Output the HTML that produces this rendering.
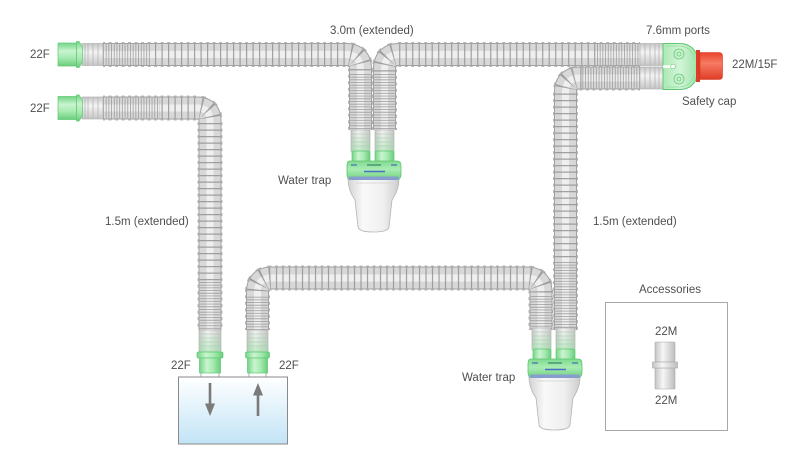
<!DOCTYPE html>
<html><head><meta charset="utf-8"><style>
html,body{margin:0;padding:0;background:#fff;}
svg{display:block}
text{font-family:"Liberation Sans",Arial,sans-serif;font-size:11.5px;fill:#4f4f4f}
.tb path{fill:none}
.e{stroke:#b8b8b8;stroke-width:25;stroke-dasharray:3 3.5;stroke-dashoffset:.9}
.o{stroke:#a2a2a2;stroke-width:23}
.b{stroke:#d8d8d8;stroke-width:21}
.h{stroke:#efefef;stroke-width:7}
.r{stroke:#939393;stroke-width:21;stroke-dasharray:1.2 5.3;opacity:.85}
.d{stroke:#959595;stroke-width:21;stroke-dasharray:.9 1.8;opacity:.8}
</style></head><body>
<svg width="800" height="462" viewBox="0 0 800 462">
<defs>
<linearGradient id="grnH" x1="0" y1="0" x2="0" y2="1"><stop offset="0" stop-color="#74d586"/><stop offset=".35" stop-color="#c9f4d0"/><stop offset=".65" stop-color="#a6eab1"/><stop offset="1" stop-color="#6acd7c"/></linearGradient>
<linearGradient id="grnV" x1="0" y1="0" x2="1" y2="0"><stop offset="0" stop-color="#74d586"/><stop offset=".35" stop-color="#c9f4d0"/><stop offset=".65" stop-color="#a6eab1"/><stop offset="1" stop-color="#6acd7c"/></linearGradient>
<linearGradient id="grnBody" x1="0" y1="0" x2="0" y2="1"><stop offset="0" stop-color="#7edb8e"/><stop offset=".45" stop-color="#a9ecb3"/><stop offset="1" stop-color="#6fd17f"/></linearGradient>
<linearGradient id="grnY" x1="0" y1="0" x2="1" y2="0"><stop offset="0" stop-color="#a9e9b3"/><stop offset=".5" stop-color="#d3f5d8"/><stop offset="1" stop-color="#9fe3aa"/></linearGradient>
<linearGradient id="cuffH" x1="0" y1="0" x2="0" y2="1"><stop offset="0" stop-color="#c8c8c8"/><stop offset=".4" stop-color="#f4f4f4"/><stop offset="1" stop-color="#c6c6c6"/></linearGradient>
<linearGradient id="cuffV" x1="0" y1="0" x2="1" y2="0"><stop offset="0" stop-color="#c8c8c8"/><stop offset=".4" stop-color="#f4f4f4"/><stop offset="1" stop-color="#c6c6c6"/></linearGradient>
<linearGradient id="tint" x1="0" y1="0" x2="0" y2="1"><stop offset="0" stop-color="#8fe09c" stop-opacity="0"/><stop offset="1" stop-color="#8fe09c" stop-opacity=".5"/></linearGradient>
<linearGradient id="cupG" x1="0" y1="0" x2="1" y2="0"><stop offset="0" stop-color="#d3d3d3"/><stop offset=".3" stop-color="#f9f9f9"/><stop offset=".7" stop-color="#efefef"/><stop offset="1" stop-color="#cdcdcd"/></linearGradient>
<linearGradient id="boxG" x1="0" y1="0" x2="0" y2="1"><stop offset="0" stop-color="#ffffff"/><stop offset="1" stop-color="#c2e4f6"/></linearGradient>
<linearGradient id="redG" x1="0" y1="0" x2="0" y2="1"><stop offset="0" stop-color="#e8432b"/><stop offset=".4" stop-color="#f77a63"/><stop offset="1" stop-color="#e03d26"/></linearGradient>
<linearGradient id="accG" x1="0" y1="0" x2="1" y2="0"><stop offset="0" stop-color="#c4c4c4"/><stop offset=".4" stop-color="#f6f6f6"/><stop offset="1" stop-color="#bdbdbd"/></linearGradient>
</defs>

<!-- Tubes -->
<g class="tb">
  <path class="e" d="M103,54.5 H346 Q360.5,54.5 360.5,69 V130"/>
  <path class="o" d="M103,54.5 H346 Q360.5,54.5 360.5,69 V130"/>
  <path class="b" d="M103,54.5 H346 Q360.5,54.5 360.5,69 V130"/>
  <path class="h" d="M103,54.5 H346 Q360.5,54.5 360.5,69 V130"/>
  <path class="r" d="M103,54.5 H346 Q360.5,54.5 360.5,69 V130"/>

  <path class="e" d="M384.5,130 V69 Q384.5,54.5 399,54.5 H640"/>
  <path class="o" d="M384.5,130 V69 Q384.5,54.5 399,54.5 H640"/>
  <path class="b" d="M384.5,130 V69 Q384.5,54.5 399,54.5 H640"/>
  <path class="h" d="M384.5,130 V69 Q384.5,54.5 399,54.5 H640"/>
  <path class="r" d="M384.5,130 V69 Q384.5,54.5 399,54.5 H640"/>

  <path class="e" d="M103,108 H197 Q210,108 210,121 V330"/>
  <path class="o" d="M103,108 H197 Q210,108 210,121 V330"/>
  <path class="b" d="M103,108 H197 Q210,108 210,121 V330"/>
  <path class="h" d="M103,108 H197 Q210,108 210,121 V330"/>
  <path class="r" d="M103,108 H197 Q210,108 210,121 V330"/>

  <path class="e" d="M257.5,330 V292 Q257.5,278 271.5,278 H527 Q541,278 541,292 V330"/>
  <path class="o" d="M257.5,330 V292 Q257.5,278 271.5,278 H527 Q541,278 541,292 V330"/>
  <path class="b" d="M257.5,330 V292 Q257.5,278 271.5,278 H527 Q541,278 541,292 V330"/>
  <path class="h" d="M257.5,330 V292 Q257.5,278 271.5,278 H527 Q541,278 541,292 V330"/>
  <path class="r" d="M257.5,330 V292 Q257.5,278 271.5,278 H527 Q541,278 541,292 V330"/>

  <path class="e" d="M640,78 H580 Q565.5,78 565.5,92 V330"/>
  <path class="o" d="M640,78 H580 Q565.5,78 565.5,92 V330"/>
  <path class="b" d="M640,78 H580 Q565.5,78 565.5,92 V330"/>
  <path class="h" d="M640,78 H580 Q565.5,78 565.5,92 V330"/>
  <path class="r" d="M640,78 H580 Q565.5,78 565.5,92 V330"/>

  <g>
    <path class="b" d="M103,54.5 H150 M360.5,74 V130 M384.5,74 V130 M597,54.5 H640 M103,108 H160 M210,282 V330 M257.5,330 V296 M541,296 V330 M640,78 H582 M565.5,262 V330"/>
    <path class="h" d="M103,54.5 H150 M360.5,74 V130 M384.5,74 V130 M597,54.5 H640 M103,108 H160 M210,282 V330 M257.5,330 V296 M541,296 V330 M640,78 H582 M565.5,262 V330"/>
    <path class="d" d="M103,54.5 H150 M360.5,74 V130 M384.5,74 V130 M597,54.5 H640 M103,108 H160 M210,282 V330 M257.5,330 V296 M541,296 V330 M640,78 H582 M565.5,262 V330"/>
  </g>
</g>

<!-- Horizontal cuffs -->
<g stroke="#aaa" stroke-width=".6">
  <rect x="82" y="43.5" width="21" height="22" fill="url(#cuffH)"/>
  <rect x="82" y="97" width="21" height="22" fill="url(#cuffH)"/>
  <rect x="640" y="43.5" width="23" height="22" fill="url(#cuffH)"/>
  <rect x="640" y="67" width="23" height="22" fill="url(#cuffH)"/>
</g>
<g stroke="#b0b0b0" stroke-width=".7">
  <path d="M85,44 V65 M88,44 V65 M93,44 V65 M98,44 V65 M85,97.5 V118.5 M88,97.5 V118.5 M93,97.5 V118.5 M98,97.5 V118.5"/>
  <path d="M645,44 V65 M650,44 V65 M655,44 V65 M659,44 V65 M645,67.5 V88.5 M650,67.5 V88.5 M655,67.5 V88.5 M659,67.5 V88.5"/>
</g>

<!-- 22F connectors left -->
<g stroke="#5fc872" stroke-width=".7">
  <rect x="58" y="43" width="18.5" height="23" fill="url(#grnH)"/>
  <path d="M76.5,41.5 L79,41.5 L82.5,47 L82.5,62 L79,67.5 L76.5,67.5 Z" fill="url(#grnH)"/>
  <rect x="58" y="96.5" width="18.5" height="23" fill="url(#grnH)"/>
  <path d="M76.5,95 L79,95 L82.5,100.5 L82.5,115.5 L79,121 L76.5,121 Z" fill="url(#grnH)"/>
</g>

<!-- Y-piece -->
<path d="M663,43.5 H679 C691,43.5 697,51 697,58 V74 C697,82 691,89.5 679,89.5 H663 Z" fill="url(#grnY)" stroke="#5ec46f" stroke-width=".9"/>
<path d="M666,46 H679 C688,46 693,52 694,58 M666,87 H679 C688,87 693,81 694,75" fill="none" stroke="#8ddb9a" stroke-width=".7"/>
<path d="M663,65.3 H671 V67.8 H663 Z" fill="#fff"/>
<circle cx="673" cy="66.5" r="2.3" fill="#fff" stroke="#6cc97c" stroke-width=".7"/>
<g fill="#c7f1cd" stroke="#6cc97c" stroke-width=".8">
  <circle cx="679" cy="54" r="5"/><circle cx="679" cy="79" r="5"/>
  <circle cx="679" cy="54" r="2" fill="none"/><circle cx="679" cy="79" r="2" fill="none"/>
</g>
<rect x="696" y="50" width="4" height="32" fill="#dc3d26"/>
<path d="M700,52.5 H719 Q722.5,52.5 722.5,56 V76 Q722.5,79.5 719,79.5 H700 Z" fill="url(#redG)" stroke="#d23a24" stroke-width=".6"/>

<!-- Vertical cuffs for box connectors -->
<g>
  <rect x="199" y="330" width="22" height="22" fill="url(#cuffV)" stroke="#aaa" stroke-width=".6"/>
  <rect x="247" y="330" width="21" height="22" fill="url(#cuffV)" stroke="#aaa" stroke-width=".6"/>
  <path d="M199,334 H221 M199,338 H221 M199,342 H221 M199,346 H221 M247,334 H268 M247,338 H268 M247,342 H268 M247,346 H268" stroke="#b8b8b8" stroke-width=".6"/>
  <rect x="199" y="330" width="22" height="22" fill="url(#tint)"/>
  <rect x="247" y="330" width="21" height="22" fill="url(#tint)"/>
</g>
<g stroke="#5fc872" stroke-width=".7">
  <rect x="197" y="352" width="26" height="6" rx="1.5" fill="url(#grnV)"/>
  <rect x="199.5" y="358" width="21" height="15" fill="url(#grnV)"/>
  <rect x="245.5" y="352" width="24" height="6" rx="1.5" fill="url(#grnV)"/>
  <rect x="247.5" y="358" width="20" height="15" fill="url(#grnV)"/>
</g>
<path d="M201,373 V377 M219,373 V377 M249,373 V377 M266,373 V377" stroke="#999" stroke-width=".8"/>

<!-- Box -->
<rect x="178.5" y="377" width="109" height="67" fill="url(#boxG)" stroke="#8a8a8a" stroke-width="1"/>
<g fill="#7a7a7a" stroke="#7a7a7a">
  <line x1="210" y1="383" x2="210" y2="405" stroke-width="2.6"/>
  <polygon points="205,403.5 215,403.5 210,416" stroke="none"/>
  <line x1="258" y1="416" x2="258" y2="394" stroke-width="2.6"/>
  <polygon points="253,395.5 263,395.5 258,383" stroke="none"/>
</g>

<!-- Water trap -->
<g id="trap">
  <rect x="351" y="130" width="19" height="22" fill="url(#cuffV)" stroke="#aaa" stroke-width=".6"/>
  <rect x="375" y="130" width="19" height="22" fill="url(#cuffV)" stroke="#aaa" stroke-width=".6"/>
  <path d="M351,134 H370 M351,138 H370 M351,142 H370 M351,146 H370 M375,134 H394 M375,138 H394 M375,142 H394 M375,146 H394" stroke="#b8b8b8" stroke-width=".6"/>
  <rect x="351" y="130" width="19" height="22" fill="url(#tint)"/>
  <rect x="375" y="130" width="19" height="22" fill="url(#tint)"/>
  <rect x="352" y="151" width="18" height="11" rx="2" fill="url(#grnV)" stroke="#5fc872" stroke-width=".7"/>
  <rect x="375" y="151" width="19" height="11" rx="2" fill="url(#grnV)" stroke="#5fc872" stroke-width=".7"/>
  <path d="M348,179 H399 Q399,190 392,200 L389,227 Q388,232 373.5,232 Q359,232 358,227 L355,200 Q348,190 348,179 Z" fill="url(#cupG)" stroke="#b5b5b5" stroke-width=".8"/>
  <path d="M356,183 H392" stroke="#d0d0d0" stroke-width=".8"/>
  <path d="M349.5,161 H397.5 Q401,161 401,166 V174 Q401,179.5 397,179.5 H350.5 Q347,179.5 347,174 V166 Q347,161 349.5,161 Z" fill="url(#grnBody)" stroke="#5ec46f" stroke-width=".8"/>
  <rect x="349" y="176.5" width="49.5" height="3.5" fill="#8a94da" opacity=".85"/>
  <path d="M351,165 H357 M391,165 H397" stroke="#4a70b8" stroke-width="1.3"/>
  <path d="M367,165 H381" stroke="#3c8a6e" stroke-width="1.3"/>
  <path d="M364,171.5 H385" stroke="#4a6fc4" stroke-width="1.5"/>
</g>
<use href="#trap" transform="translate(181,198)"/>

<!-- Accessories -->
<rect x="605.5" y="302.5" width="122" height="128" fill="none" stroke="#a8a8a8" stroke-width="1"/>
<g stroke="#a8a8a8" stroke-width=".6" fill="url(#accG)">
  <rect x="655" y="342" width="20" height="20" rx="1"/>
  <rect x="655" y="368" width="20" height="21" rx="1"/>
  <rect x="652.5" y="362" width="25" height="6"/>
</g>

<!-- Labels -->
<text x="330" y="34">3.0m (extended)</text>
<text x="646" y="34">7.6mm ports</text>
<text x="732" y="68">22M/15F</text>
<text x="682" y="105">Safety cap</text>
<text x="30" y="58">22F</text>
<text x="30" y="112">22F</text>
<text x="278" y="184">Water trap</text>
<text x="105" y="225">1.5m (extended)</text>
<text x="593" y="225">1.5m (extended)</text>
<text x="171" y="369">22F</text>
<text x="279" y="369">22F</text>
<text x="462" y="381">Water trap</text>
<text x="639" y="293">Accessories</text>
<text x="655" y="335">22M</text>
<text x="655" y="404">22M</text>
</svg>
</body></html>
